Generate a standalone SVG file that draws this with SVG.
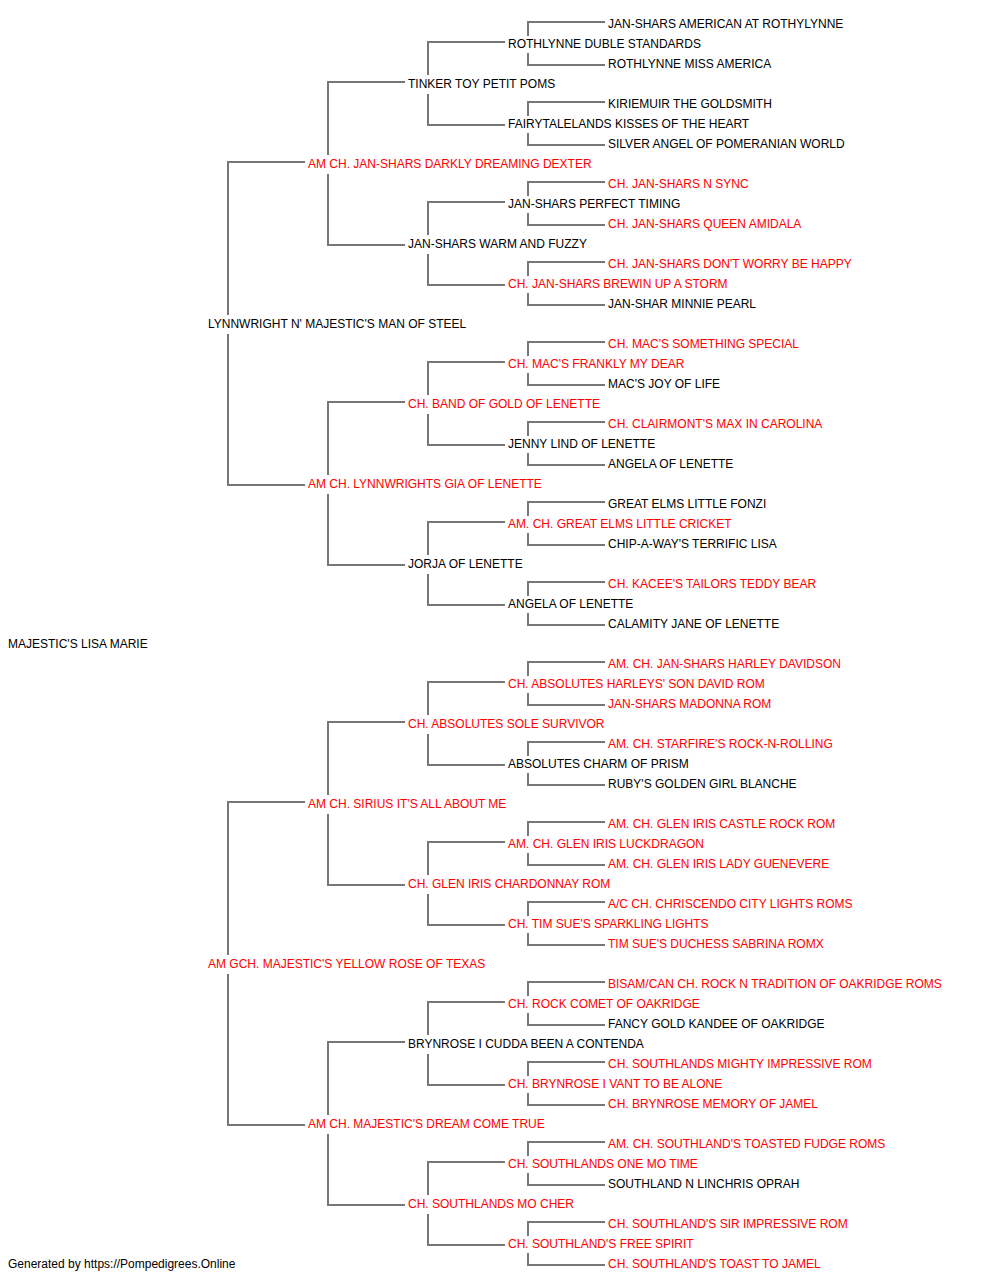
<svg xmlns="http://www.w3.org/2000/svg" width="1000" height="1280" viewBox="0 0 1000 1280">
<style>
text{font-family:"Liberation Sans",Arial,sans-serif;font-size:12px;fill:#000}
text.r{fill:#ff0000}
.c path{fill:none;stroke:#777;stroke-width:2}
</style>
<rect width="1000" height="1280" fill="#fff"/>
<g id="connectors" class="c">
<path d="M305,162 H228 V315 M228,334 V485 H305"/>
<path d="M305,802 H228 V955 M228,974 V1125 H305"/>
<path d="M405,82 H328 V155 M328,174 V245 H405"/>
<path d="M405,402 H328 V475 M328,494 V565 H405"/>
<path d="M405,722 H328 V795 M328,814 V885 H405"/>
<path d="M405,1042 H328 V1115 M328,1134 V1205 H405"/>
<path d="M505,42 H428 V75 M428,94 V125 H505"/>
<path d="M505,202 H428 V235 M428,254 V285 H505"/>
<path d="M505,362 H428 V395 M428,414 V445 H505"/>
<path d="M505,522 H428 V555 M428,574 V605 H505"/>
<path d="M505,682 H428 V715 M428,734 V765 H505"/>
<path d="M505,842 H428 V875 M428,894 V925 H505"/>
<path d="M505,1002 H428 V1035 M428,1054 V1085 H505"/>
<path d="M505,1162 H428 V1195 M428,1214 V1245 H505"/>
<path d="M605,22 H528 V36 M528,53 V65 H605"/>
<path d="M605,102 H528 V116 M528,133 V145 H605"/>
<path d="M605,182 H528 V196 M528,213 V225 H605"/>
<path d="M605,262 H528 V276 M528,293 V305 H605"/>
<path d="M605,342 H528 V356 M528,373 V385 H605"/>
<path d="M605,422 H528 V436 M528,453 V465 H605"/>
<path d="M605,502 H528 V516 M528,533 V545 H605"/>
<path d="M605,582 H528 V596 M528,613 V625 H605"/>
<path d="M605,662 H528 V676 M528,693 V705 H605"/>
<path d="M605,742 H528 V756 M528,773 V785 H605"/>
<path d="M605,822 H528 V836 M528,853 V865 H605"/>
<path d="M605,902 H528 V916 M528,933 V945 H605"/>
<path d="M605,982 H528 V996 M528,1013 V1025 H605"/>
<path d="M605,1062 H528 V1076 M528,1093 V1105 H605"/>
<path d="M605,1142 H528 V1156 M528,1173 V1185 H605"/>
<path d="M605,1222 H528 V1236 M528,1253 V1265 H605"/>
</g>
<g id="root"><text x="8" y="648">MAJESTIC'S LISA MARIE</text></g>
<g id="s"><text x="208" y="328">LYNNWRIGHT N' MAJESTIC'S MAN OF STEEL</text></g>
<g id="d"><text class="r" x="208" y="968">AM GCH. MAJESTIC'S YELLOW ROSE OF TEXAS</text></g>
<g id="ss"><text class="r" x="308" y="168">AM CH. JAN-SHARS DARKLY DREAMING DEXTER</text></g>
<g id="sd"><text class="r" x="308" y="488">AM CH. LYNNWRIGHTS GIA OF LENETTE</text></g>
<g id="ds"><text class="r" x="308" y="808">AM CH. SIRIUS IT'S ALL ABOUT ME</text></g>
<g id="dd"><text class="r" x="308" y="1128">AM CH. MAJESTIC'S DREAM COME TRUE</text></g>
<g id="sss"><text x="408" y="88">TINKER TOY PETIT POMS</text></g>
<g id="ssd"><text x="408" y="248">JAN-SHARS WARM AND FUZZY</text></g>
<g id="sds"><text class="r" x="408" y="408">CH. BAND OF GOLD OF LENETTE</text></g>
<g id="sdd"><text x="408" y="568">JORJA OF LENETTE</text></g>
<g id="dss"><text class="r" x="408" y="728">CH. ABSOLUTES SOLE SURVIVOR</text></g>
<g id="dsd"><text class="r" x="408" y="888">CH. GLEN IRIS CHARDONNAY ROM</text></g>
<g id="dds"><text x="408" y="1048">BRYNROSE I CUDDA BEEN A CONTENDA</text></g>
<g id="ddd"><text class="r" x="408" y="1208">CH. SOUTHLANDS MO CHER</text></g>
<g id="ssss"><text x="508" y="48">ROTHLYNNE DUBLE STANDARDS</text></g>
<g id="sssd"><text x="508" y="128">FAIRYTALELANDS KISSES OF THE HEART</text></g>
<g id="ssds"><text x="508" y="208">JAN-SHARS PERFECT TIMING</text></g>
<g id="ssdd"><text class="r" x="508" y="288">CH. JAN-SHARS BREWIN UP A STORM</text></g>
<g id="sdss"><text class="r" x="508" y="368">CH. MAC'S FRANKLY MY DEAR</text></g>
<g id="sdsd"><text x="508" y="448">JENNY LIND OF LENETTE</text></g>
<g id="sdds"><text class="r" x="508" y="528">AM. CH. GREAT ELMS LITTLE CRICKET</text></g>
<g id="sddd"><text x="508" y="608">ANGELA OF LENETTE</text></g>
<g id="dsss"><text class="r" x="508" y="688">CH. ABSOLUTES HARLEYS' SON DAVID ROM</text></g>
<g id="dssd"><text x="508" y="768">ABSOLUTES CHARM OF PRISM</text></g>
<g id="dsds"><text class="r" x="508" y="848">AM. CH. GLEN IRIS LUCKDRAGON</text></g>
<g id="dsdd"><text class="r" x="508" y="928">CH. TIM SUE'S SPARKLING LIGHTS</text></g>
<g id="ddss"><text class="r" x="508" y="1008">CH. ROCK COMET OF OAKRIDGE</text></g>
<g id="ddsd"><text class="r" x="508" y="1088">CH. BRYNROSE I VANT TO BE ALONE</text></g>
<g id="ddds"><text class="r" x="508" y="1168">CH. SOUTHLANDS ONE MO TIME</text></g>
<g id="dddd"><text class="r" x="508" y="1248">CH. SOUTHLAND'S FREE SPIRIT</text></g>
<g id="g4-01"><text x="608" y="28">JAN-SHARS AMERICAN AT ROTHYLYNNE</text></g>
<g id="g4-02"><text x="608" y="68">ROTHLYNNE MISS AMERICA</text></g>
<g id="g4-03"><text x="608" y="108">KIRIEMUIR THE GOLDSMITH</text></g>
<g id="g4-04"><text x="608" y="148">SILVER ANGEL OF POMERANIAN WORLD</text></g>
<g id="g4-05"><text class="r" x="608" y="188">CH. JAN-SHARS N SYNC</text></g>
<g id="g4-06"><text class="r" x="608" y="228">CH. JAN-SHARS QUEEN AMIDALA</text></g>
<g id="g4-07"><text class="r" x="608" y="268">CH. JAN-SHARS DON'T WORRY BE HAPPY</text></g>
<g id="g4-08"><text x="608" y="308">JAN-SHAR MINNIE PEARL</text></g>
<g id="g4-09"><text class="r" x="608" y="348">CH. MAC'S SOMETHING SPECIAL</text></g>
<g id="g4-10"><text x="608" y="388">MAC'S JOY OF LIFE</text></g>
<g id="g4-11"><text class="r" x="608" y="428">CH. CLAIRMONT'S MAX IN CAROLINA</text></g>
<g id="g4-12"><text x="608" y="468">ANGELA OF LENETTE</text></g>
<g id="g4-13"><text x="608" y="508">GREAT ELMS LITTLE FONZI</text></g>
<g id="g4-14"><text x="608" y="548">CHIP-A-WAY'S TERRIFIC LISA</text></g>
<g id="g4-15"><text class="r" x="608" y="588">CH. KACEE'S TAILORS TEDDY BEAR</text></g>
<g id="g4-16"><text x="608" y="628">CALAMITY JANE OF LENETTE</text></g>
<g id="g4-17"><text class="r" x="608" y="668">AM. CH. JAN-SHARS HARLEY DAVIDSON</text></g>
<g id="g4-18"><text class="r" x="608" y="708">JAN-SHARS MADONNA ROM</text></g>
<g id="g4-19"><text class="r" x="608" y="748">AM. CH. STARFIRE'S ROCK-N-ROLLING</text></g>
<g id="g4-20"><text x="608" y="788">RUBY'S GOLDEN GIRL BLANCHE</text></g>
<g id="g4-21"><text class="r" x="608" y="828">AM. CH. GLEN IRIS CASTLE ROCK ROM</text></g>
<g id="g4-22"><text class="r" x="608" y="868">AM. CH. GLEN IRIS LADY GUENEVERE</text></g>
<g id="g4-23"><text class="r" x="608" y="908">A/C CH. CHRISCENDO CITY LIGHTS ROMS</text></g>
<g id="g4-24"><text class="r" x="608" y="948">TIM SUE'S DUCHESS SABRINA ROMX</text></g>
<g id="g4-25"><text class="r" x="608" y="988">BISAM/CAN CH. ROCK N TRADITION OF OAKRIDGE ROMS</text></g>
<g id="g4-26"><text x="608" y="1028">FANCY GOLD KANDEE OF OAKRIDGE</text></g>
<g id="g4-27"><text class="r" x="608" y="1068">CH. SOUTHLANDS MIGHTY IMPRESSIVE ROM</text></g>
<g id="g4-28"><text class="r" x="608" y="1108">CH. BRYNROSE MEMORY OF JAMEL</text></g>
<g id="g4-29"><text class="r" x="608" y="1148">AM. CH. SOUTHLAND'S TOASTED FUDGE ROMS</text></g>
<g id="g4-30"><text x="608" y="1188">SOUTHLAND N LINCHRIS OPRAH</text></g>
<g id="g4-31"><text class="r" x="608" y="1228">CH. SOUTHLAND'S SIR IMPRESSIVE ROM</text></g>
<g id="g4-32"><text class="r" x="608" y="1268">CH. SOUTHLAND'S TOAST TO JAMEL</text></g>
<g id="footer"><text x="8" y="1268">Generated by https://Pompedigrees.Online</text></g>
</svg>
